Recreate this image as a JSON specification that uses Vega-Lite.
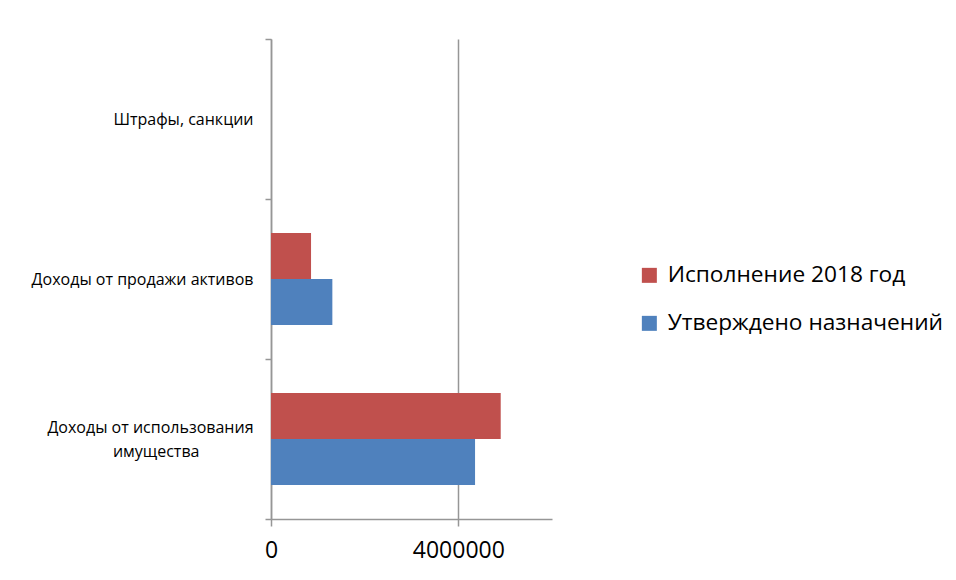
{
  "$schema": "https://vega.github.io/schema/vega-lite/v6.json",
  "autosize": {"type": "none"},
  "padding": {"left": 271, "top": 39, "right": 404, "bottom": 61},
  "width": 281,
  "height": 480,
  "background": "white",
  "data": {
    "values": [
      {"category": "Штрафы, санкции", "series": "Исполнение 2018 год", "value": 0},
      {"category": "Штрафы, санкции", "series": "Утверждено назначений", "value": 0},
      {"category": "Доходы от продажи активов", "series": "Исполнение 2018 год", "value": 855000},
      {"category": "Доходы от продажи активов", "series": "Утверждено назначений", "value": 1310000},
      {"category": "Доходы от использования имущества", "series": "Исполнение 2018 год", "value": 4905000},
      {"category": "Доходы от использования имущества", "series": "Утверждено назначений", "value": 4357000}
    ]
  },
  "mark": {"type": "bar"},
  "encoding": {
    "y": {
      "field": "category",
      "type": "nominal",
      "sort": ["Штрафы, санкции", "Доходы от продажи активов", "Доходы от использования имущества"],
      "scale": {"paddingInner": 0, "paddingOuter": 0},
      "axis": {
        "title": null,
        "tickBand": "extent",
        "domainColor": "#969696",
        "domainWidth": 1.5,
        "tickColor": "#969696",
        "tickWidth": 1.5,
        "tickSize": 6,
        "labelPadding": 12,
        "labelFont": "Open Sans",
        "labelFontSize": 16,
        "labelColor": "#000000",
        "labelLimit": 300,
        "labelLineHeight": 24,
        "labelOffset": {"condition": {"test": "datum.value == 'Доходы от использования имущества'", "value": -12}, "value": 0},
        "labelExpr": "datum.value == 'Доходы от использования имущества' ? ['Доходы от использования', 'имущества\u00a0\u00a0\u00a0\u00a0\u00a0\u00a0\u00a0\u00a0\u00a0\u00a0\u00a0\u00a0\u00a0\u200b'] : datum.value"
      }
    },
    "yOffset": {
      "field": "series",
      "type": "nominal",
      "sort": ["Исполнение 2018 год", "Утверждено назначений"],
      "scale": {"paddingInner": 0, "paddingOuter": 0.739}
    },
    "x": {
      "field": "value",
      "type": "quantitative",
      "scale": {"domain": [0, 6000000], "nice": false},
      "axis": {
        "title": null,
        "values": [0, 4000000],
        "format": "d",
        "grid": true,
        "gridColor": "#969696",
        "gridWidth": 1.5,
        "domainColor": "#969696",
        "domainWidth": 1.5,
        "tickColor": "#969696",
        "tickWidth": 1.5,
        "tickSize": 7,
        "labelPadding": 13,
        "labelFont": "Open Sans",
        "labelFontSize": 23,
        "labelColor": "#000000",
        "labelFlush": false
      }
    },
    "color": {
      "field": "series",
      "type": "nominal",
      "sort": ["Исполнение 2018 год", "Утверждено назначений"],
      "scale": {"range": ["#C0504D", "#4F81BD"]},
      "legend": {
        "title": null,
        "orient": "none",
        "legendX": 367,
        "legendY": 225,
        "symbolType": "square",
        "symbolSize": 225,
        "symbolStrokeWidth": 0,
        "labelFont": "Open Sans",
        "labelFontSize": 22.7,
        "labelColor": "#000000",
        "labelOffset": 7,
        "rowPadding": 24,
        "labelLimit": 400
      }
    }
  },
  "config": {
    "view": {"stroke": null},
    "axis": {"gridDash": []}
  }
}
